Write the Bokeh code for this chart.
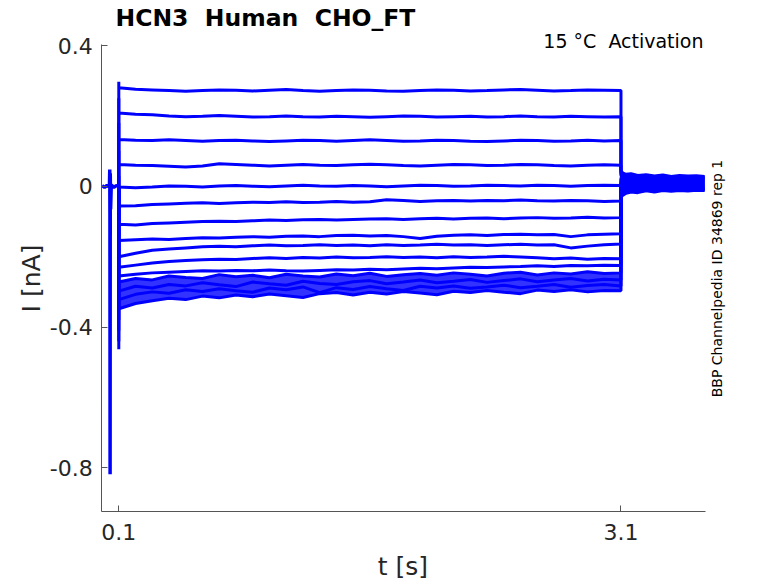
import math
from bokeh.plotting import figure
from bokeh.models import Range1d, FixedTicker, Label
from bokeh.embed import file_html
from bokeh.resources import INLINE

# ---------------- data ----------------
# holding segment before the step (s, nA), with the stimulus artifact
t_hold = [0.0, 0.015, 0.03, 0.044, 0.046, 0.047, 0.048, 0.049, 0.051, 0.055, 0.07, 0.085, 0.1]
i_hold = [0.002, -0.003, 0.003, -0.002, 0.048, -0.072, -0.818, 0.036, -0.065, 0.004, -0.003, 0.002, 0.0]

# sample times during the test step (s)
t_step = [0.1, 0.2, 0.3, 0.4, 0.5, 0.6, 0.7, 0.8, 0.9, 1.0,
          1.1, 1.2, 1.3, 1.4, 1.5, 1.6, 1.7, 1.8, 1.9, 2.0,
          2.1, 2.2, 2.3, 2.4, 2.5, 2.6, 2.7, 2.8, 2.9, 3.0, 3.1]
# sample times after the step (s)
t_tail = [3.1, 3.11, 3.13, 3.16, 3.2, 3.25, 3.3, 3.35, 3.4, 3.45, 3.5, 3.55, 3.6]

# capacitive transient peak at step onset, per sweep (nA)
onset = [0.297, 0.25, 0.18, 0.10, 0.03, -0.08, -0.14, -0.20, -0.25, -0.30, -0.35, -0.38, -0.41, -0.44, -0.463]

sweep_01 = [0.280, 0.276, 0.274, 0.272, 0.270, 0.272, 0.274, 0.273, 0.271, 0.273,
            0.275, 0.272, 0.270, 0.272, 0.274, 0.273, 0.271, 0.270, 0.272, 0.274,
            0.273, 0.271, 0.272, 0.274, 0.275, 0.273, 0.271, 0.272, 0.274, 0.273, 0.272]
sweep_02 = [0.208, 0.205, 0.203, 0.200, 0.198, 0.199, 0.201, 0.199, 0.197, 0.198,
            0.200, 0.198, 0.197, 0.199, 0.198, 0.196, 0.198, 0.200, 0.199, 0.197,
            0.198, 0.199, 0.197, 0.198, 0.200, 0.198, 0.197, 0.199, 0.198, 0.197, 0.198]
sweep_03 = [0.133, 0.131, 0.130, 0.132, 0.130, 0.128, 0.130, 0.131, 0.129, 0.127,
            0.129, 0.131, 0.130, 0.128, 0.130, 0.132, 0.130, 0.128, 0.129, 0.131,
            0.130, 0.128, 0.127, 0.129, 0.131, 0.130, 0.128, 0.129, 0.131, 0.129, 0.130]
sweep_04 = [0.062, 0.060, 0.059, 0.057, 0.055, 0.058, 0.064, 0.062, 0.060, 0.058,
            0.060, 0.062, 0.060, 0.059, 0.061, 0.063, 0.061, 0.059, 0.058, 0.060,
            0.062, 0.061, 0.059, 0.060, 0.062, 0.061, 0.059, 0.058, 0.060, 0.061, 0.060]
sweep_05 = [-0.002, -0.004, -0.002, 0.001, 0.000, -0.002, 0.001, 0.002, 0.000, -0.001,
            0.001, 0.003, 0.001, 0.000, 0.002, 0.001, -0.001, 0.001, 0.003, 0.002,
            0.000, 0.001, 0.003, 0.002, 0.001, 0.003, 0.002, 0.000, 0.002, 0.003, 0.002]
sweep_06 = [-0.056, -0.055, -0.052, -0.050, -0.048, -0.047, -0.049, -0.047, -0.045, -0.046,
            -0.044, -0.046, -0.045, -0.043, -0.045, -0.044, -0.038, -0.040, -0.043, -0.041,
            -0.040, -0.042, -0.040, -0.041, -0.039, -0.041, -0.042, -0.040, -0.041, -0.043, -0.042]
sweep_07 = [-0.108, -0.110, -0.106, -0.104, -0.102, -0.100, -0.099, -0.100, -0.098, -0.096,
            -0.097, -0.095, -0.094, -0.096, -0.094, -0.093, -0.092, -0.094, -0.092, -0.091,
            -0.093, -0.091, -0.090, -0.092, -0.090, -0.089, -0.091, -0.090, -0.088, -0.090, -0.089]
sweep_08 = [-0.154, -0.152, -0.150, -0.151, -0.148, -0.146, -0.147, -0.145, -0.143, -0.145,
            -0.142, -0.141, -0.143, -0.140, -0.139, -0.141, -0.140, -0.143, -0.148, -0.142,
            -0.139, -0.138, -0.140, -0.137, -0.136, -0.138, -0.137, -0.143, -0.138, -0.136, -0.135]
sweep_09 = [-0.200, -0.190, -0.182, -0.178, -0.175, -0.172, -0.170, -0.172, -0.169, -0.167,
            -0.169, -0.168, -0.166, -0.168, -0.167, -0.169, -0.166, -0.168, -0.167, -0.165,
            -0.167, -0.166, -0.168, -0.166, -0.165, -0.167, -0.166, -0.175, -0.170, -0.166, -0.164]
sweep_10 = [-0.230, -0.224, -0.218, -0.214, -0.211, -0.209, -0.207, -0.208, -0.205, -0.203,
            -0.205, -0.202, -0.204, -0.201, -0.203, -0.202, -0.200, -0.202, -0.201, -0.203,
            -0.200, -0.202, -0.201, -0.199, -0.201, -0.203, -0.206, -0.204, -0.207, -0.205, -0.206]
sweep_11 = [-0.255, -0.250, -0.246, -0.244, -0.242, -0.240, -0.241, -0.239, -0.240, -0.238,
            -0.240, -0.241, -0.239, -0.237, -0.238, -0.236, -0.237, -0.235, -0.233, -0.234,
            -0.232, -0.230, -0.231, -0.229, -0.228, -0.226, -0.228, -0.225, -0.226, -0.224, -0.225]
sweep_12 = [-0.272, -0.262, -0.266, -0.255, -0.259, -0.262, -0.251, -0.257, -0.253, -0.260,
            -0.250, -0.255, -0.258, -0.249, -0.254, -0.247, -0.256, -0.251, -0.248, -0.253,
            -0.246, -0.250, -0.255, -0.247, -0.244, -0.252, -0.246, -0.249, -0.243, -0.248, -0.246]
sweep_13 = [-0.298, -0.284, -0.289, -0.279, -0.283, -0.274, -0.280, -0.285, -0.272, -0.277,
            -0.281, -0.270, -0.276, -0.279, -0.271, -0.268, -0.277, -0.272, -0.266, -0.274,
            -0.270, -0.265, -0.273, -0.268, -0.263, -0.271, -0.266, -0.262, -0.269, -0.264, -0.266]
sweep_14 = [-0.322, -0.307, -0.300, -0.304, -0.294, -0.299, -0.291, -0.297, -0.301, -0.289,
            -0.294, -0.286, -0.302, -0.288, -0.293, -0.285, -0.291, -0.296, -0.284, -0.289,
            -0.283, -0.290, -0.286, -0.281, -0.288, -0.284, -0.279, -0.287, -0.282, -0.279, -0.283]
sweep_15 = [-0.348, -0.333, -0.325, -0.318, -0.322, -0.312, -0.317, -0.309, -0.314, -0.306,
            -0.311, -0.316, -0.305, -0.302, -0.309, -0.301, -0.306, -0.299, -0.303, -0.308,
            -0.298, -0.302, -0.296, -0.301, -0.305, -0.295, -0.299, -0.294, -0.300, -0.296, -0.297]

tail_01 = [0.045, 0.038, 0.034, 0.036, 0.031, 0.033, 0.029, 0.032, 0.028, 0.031, 0.029, 0.030, 0.028]
tail_02 = [0.040, 0.033, 0.030, 0.032, 0.027, 0.030, 0.026, 0.028, 0.025, 0.028, 0.026, 0.027, 0.025]
tail_03 = [0.035, 0.030, 0.026, 0.029, 0.024, 0.027, 0.023, 0.025, 0.022, 0.025, 0.023, 0.024, 0.022]
tail_04 = [0.030, 0.026, 0.023, 0.025, 0.021, 0.023, 0.020, 0.022, 0.019, 0.022, 0.020, 0.021, 0.019]
tail_05 = [0.025, 0.021, 0.019, 0.021, 0.017, 0.020, 0.016, 0.019, 0.016, 0.018, 0.016, 0.018, 0.016]
tail_06 = [0.020, 0.017, 0.015, 0.017, 0.013, 0.016, 0.013, 0.015, 0.012, 0.015, 0.013, 0.014, 0.013]
tail_07 = [0.014, 0.012, 0.010, 0.013, 0.009, 0.012, 0.009, 0.011, 0.009, 0.011, 0.009, 0.011, 0.010]
tail_08 = [0.008, 0.007, 0.006, 0.009, 0.005, 0.008, 0.005, 0.008, 0.006, 0.008, 0.006, 0.007, 0.006]
tail_09 = [0.002, 0.002, 0.002, 0.005, 0.001, 0.004, 0.002, 0.004, 0.002, 0.004, 0.003, 0.004, 0.003]
tail_10 = [-0.004, -0.003, -0.002, 0.001, -0.003, 0.000, -0.002, 0.001, -0.001, 0.001, -0.001, 0.001, 0.000]
tail_11 = [-0.010, -0.008, -0.006, -0.003, -0.006, -0.003, -0.005, -0.002, -0.004, -0.002, -0.004, -0.002, -0.003]
tail_12 = [-0.015, -0.013, -0.010, -0.006, -0.009, -0.006, -0.008, -0.005, -0.007, -0.005, -0.007, -0.005, -0.006]
tail_13 = [-0.020, -0.018, -0.014, -0.010, -0.012, -0.009, -0.011, -0.008, -0.010, -0.008, -0.009, -0.008, -0.008]
tail_14 = [-0.024, -0.022, -0.017, -0.013, -0.015, -0.011, -0.013, -0.010, -0.012, -0.010, -0.011, -0.010, -0.010]
tail_15 = [-0.030, -0.026, -0.020, -0.016, -0.018, -0.013, -0.016, -0.012, -0.014, -0.012, -0.013, -0.011, -0.012]

x_ticks = [0.1, 3.1]
x_tick_labels = ["0.1", "3.1"]
y_ticks = [-0.8, -0.4, 0, 0.4]
y_tick_labels = ["-0.8", "-0.4", "0", "0.4"]

title_text = "HCN3\u00a0 Human\u00a0 CHO_FT"
cond_text = "15 °C\u00a0 Activation"
id_text = "BBP Channelpedia ID 34869 rep 1"
x_label = "t [s]"
y_label = "I [nA]"

sweeps = [sweep_01, sweep_02, sweep_03, sweep_04, sweep_05, sweep_06, sweep_07, sweep_08,
          sweep_09, sweep_10, sweep_11, sweep_12, sweep_13, sweep_14, sweep_15]
tails = [tail_01, tail_02, tail_03, tail_04, tail_05, tail_06, tail_07, tail_08,
         tail_09, tail_10, tail_11, tail_12, tail_13, tail_14, tail_15]

# ---------------- figure ----------------
BLUE = "#0000ff"
AX = "#262626"
FONT = "DejaVu Sans"

# the plotting frame covers the whole canvas; the axes are placed with
# fixed_location and limited with bounds, so that every text lies inside it
p = figure(width=778, height=583, output_backend="svg", toolbar_location=None,
           x_range=Range1d(-0.6067, 4.041), y_range=Range1d(-1.1287, 0.528),
           min_border_left=0, min_border_right=0, min_border_top=0, min_border_bottom=0,
           background_fill_color="white", border_fill_color="white")
p.outline_line_color = None
p.grid.visible = False

# dense band of the most negative sweeps
p.varea(x=t_step, y1=sweep_15, y2=sweep_12, fill_color=BLUE, fill_alpha=0.8)

for s, tl, on in zip(sweeps, tails, onset):
    xs = [t_hold[-1], t_step[0]] + t_step + t_tail
    ys = [i_hold[-1], on] + s + tl
    p.line(xs, ys, line_color=BLUE, line_width=3)

p.line(t_hold, i_hold, line_color=BLUE, line_width=3.5)

for ax in (p.xaxis, p.yaxis):
    ax.axis_line_color = "#555555"
    ax.major_tick_line_color = "#555555"
    ax.major_tick_in = 6
    ax.major_tick_out = 0
    ax.minor_tick_line_color = None
    ax.major_label_text_font = FONT
    ax.major_label_text_font_size = "22px"
    ax.major_label_text_color = AX

p.xaxis.fixed_location = -0.924
p.yaxis.fixed_location = -0.0016
p.xaxis.bounds = (-0.0016, 3.605)
p.yaxis.bounds = (-0.924, 0.402)
p.xaxis.ticker = FixedTicker(ticks=x_ticks)
p.xaxis.major_label_overrides = {k: v for k, v in zip(x_ticks, x_tick_labels)}
p.yaxis.ticker = FixedTicker(ticks=y_ticks)
p.yaxis.major_label_overrides = {k: v for k, v in zip(y_ticks, y_tick_labels)}
p.xaxis.major_label_standoff = 13
p.yaxis.major_label_standoff = 9

# axis titles
p.add_layout(Label(x=1.7977, y=-1.0804, text=x_label, text_font=FONT, text_font_size="25px",
                   text_color=AX, text_align="center", text_baseline="middle"))
p.add_layout(Label(x=-0.4215, y=-0.262, text=y_label, text_font=FONT, text_font_size="25px",
                   text_color=AX, text_align="center", text_baseline="middle", angle=math.pi / 2))

# title and notes
p.add_layout(Label(x=0.0803, y=0.4783, text=title_text, text_font=FONT,
                   text_font_style="bold", text_font_size="23.5px", text_color="black",
                   text_baseline="middle", text_align="left"))
p.add_layout(Label(x=3.593, y=0.4129, text=cond_text, text_font=FONT,
                   text_font_size="19px", text_color="black",
                   text_baseline="middle", text_align="right"))
p.add_layout(Label(x=3.671, y=-0.262, text=id_text, text_font=FONT,
                   text_font_size="14px", text_color="black", angle=math.pi / 2,
                   text_baseline="middle", text_align="center"))

open("out.html", "w").write(file_html(p, INLINE))
